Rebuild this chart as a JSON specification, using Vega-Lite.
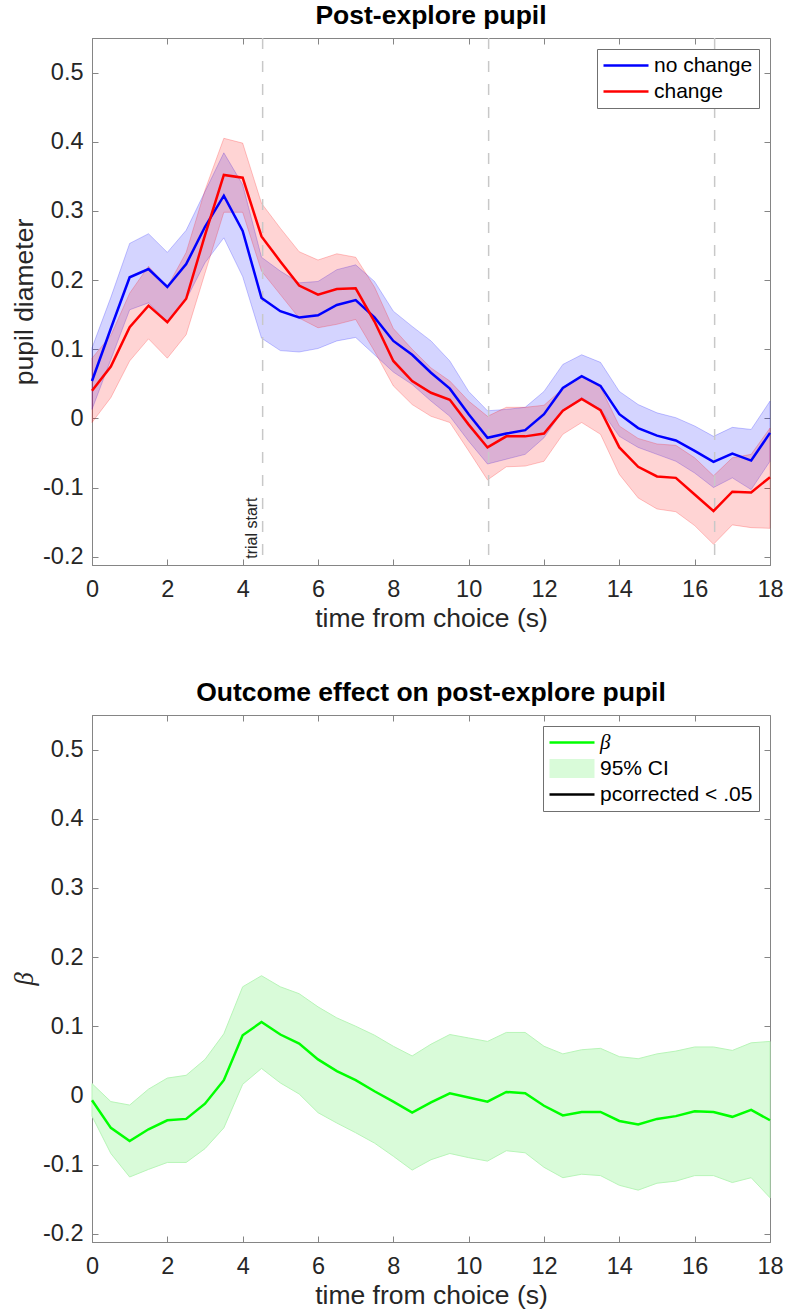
{
  "$schema": "https://vega.github.io/schema/vega-lite/v6.json",
  "background": "white",
  "padding": {"left": 11, "top": 2, "right": 5, "bottom": 3},
  "resolve": {"scale": {"color": "independent"}, "legend": {"color": "independent"}},
  "config": {
    "font": "Liberation Sans",
    "view": {"stroke": "#858585", "strokeWidth": 1},
    "axis": {
      "domainColor": "#858585", "tickColor": "#858585", "tickSize": -6, "tickWidth": 1,
      "labelFontSize": 23.5, "labelColor": "#262626", "labelFont": "Liberation Sans",
      "titleFontSize": 26.5, "titleFontWeight": "normal", "titleColor": "#262626", "titleFont": "Liberation Sans",
      "grid": false, "labelFlush": false, "labelOverlap": false
    },
    "title": {"fontSize": 26.5, "fontWeight": "bold", "color": "#000000", "font": "Liberation Sans"},
    "legend": {
      "orient": "top-right", "offset": 11, "padding": 6, "strokeColor": "#707070", "fillColor": "white",
      "labelFontSize": 21, "labelColor": "#000000", "labelFont": "Liberation Sans", "rowPadding": 4,
      "symbolType": "stroke", "symbolSize": 400, "symbolStrokeWidth": 2.5, "symbolOffset": 12.5, "labelOffset": 17.5, "cornerRadius": 0
    }
  },
  "datasets": {
    "pupil": [
      {"t":0,"g":"no change","m":0.054,"lo":0.013,"hi":0.102},
      {"t":0.5,"g":"no change","m":0.130,"lo":0.085,"hi":0.175},
      {"t":1,"g":"no change","m":0.204,"lo":0.157,"hi":0.253},
      {"t":1.5,"g":"no change","m":0.216,"lo":0.167,"hi":0.267},
      {"t":2,"g":"no change","m":0.190,"lo":0.140,"hi":0.240},
      {"t":2.5,"g":"no change","m":0.223,"lo":0.172,"hi":0.272},
      {"t":3,"g":"no change","m":0.277,"lo":0.225,"hi":0.328},
      {"t":3.5,"g":"no change","m":0.322,"lo":0.261,"hi":0.384},
      {"t":4,"g":"no change","m":0.271,"lo":0.205,"hi":0.338},
      {"t":4.5,"g":"no change","m":0.174,"lo":0.116,"hi":0.233},
      {"t":5,"g":"no change","m":0.155,"lo":0.098,"hi":0.213},
      {"t":5.5,"g":"no change","m":0.146,"lo":0.096,"hi":0.196},
      {"t":6,"g":"no change","m":0.149,"lo":0.101,"hi":0.198},
      {"t":6.5,"g":"no change","m":0.164,"lo":0.112,"hi":0.215},
      {"t":7,"g":"no change","m":0.171,"lo":0.117,"hi":0.222},
      {"t":7.5,"g":"no change","m":0.146,"lo":0.092,"hi":0.198},
      {"t":8,"g":"no change","m":0.112,"lo":0.067,"hi":0.155},
      {"t":8.5,"g":"no change","m":0.092,"lo":0.049,"hi":0.133},
      {"t":9,"g":"no change","m":0.066,"lo":0.025,"hi":0.112},
      {"t":9.5,"g":"no change","m":0.043,"lo":0.003,"hi":0.083},
      {"t":10,"g":"no change","m":0.006,"lo":-0.033,"hi":0.039},
      {"t":10.5,"g":"no change","m":-0.028,"lo":-0.066,"hi":0.011},
      {"t":11,"g":"no change","m":-0.022,"lo":-0.059,"hi":0.013},
      {"t":11.5,"g":"no change","m":-0.017,"lo":-0.052,"hi":0.016},
      {"t":12,"g":"no change","m":0.006,"lo":-0.028,"hi":0.039},
      {"t":12.5,"g":"no change","m":0.044,"lo":0.011,"hi":0.078},
      {"t":13,"g":"no change","m":0.061,"lo":0.030,"hi":0.092},
      {"t":13.5,"g":"no change","m":0.047,"lo":0.013,"hi":0.081},
      {"t":14,"g":"no change","m":0.006,"lo":-0.026,"hi":0.039},
      {"t":14.5,"g":"no change","m":-0.014,"lo":-0.042,"hi":0.020},
      {"t":15,"g":"no change","m":-0.025,"lo":-0.052,"hi":0.008},
      {"t":15.5,"g":"no change","m":-0.032,"lo":-0.062,"hi":0.001},
      {"t":16,"g":"no change","m":-0.047,"lo":-0.079,"hi":-0.011},
      {"t":16.5,"g":"no change","m":-0.063,"lo":-0.100,"hi":-0.026},
      {"t":17,"g":"no change","m":-0.051,"lo":-0.086,"hi":-0.013},
      {"t":17.5,"g":"no change","m":-0.061,"lo":-0.103,"hi":-0.016},
      {"t":18,"g":"no change","m":-0.021,"lo":-0.062,"hi":0.025},
      {"t":0,"g":"change","m":0.040,"lo":-0.006,"hi":0.087},
      {"t":0.5,"g":"change","m":0.075,"lo":0.030,"hi":0.120},
      {"t":1,"g":"change","m":0.132,"lo":0.083,"hi":0.181},
      {"t":1.5,"g":"change","m":0.163,"lo":0.115,"hi":0.220},
      {"t":2,"g":"change","m":0.139,"lo":0.087,"hi":0.190},
      {"t":2.5,"g":"change","m":0.173,"lo":0.121,"hi":0.240},
      {"t":3,"g":"change","m":0.265,"lo":0.210,"hi":0.330},
      {"t":3.5,"g":"change","m":0.352,"lo":0.298,"hi":0.405},
      {"t":4,"g":"change","m":0.348,"lo":0.298,"hi":0.398},
      {"t":4.5,"g":"change","m":0.263,"lo":0.213,"hi":0.311},
      {"t":5,"g":"change","m":0.227,"lo":0.179,"hi":0.275},
      {"t":5.5,"g":"change","m":0.192,"lo":0.145,"hi":0.241},
      {"t":6,"g":"change","m":0.179,"lo":0.131,"hi":0.229},
      {"t":6.5,"g":"change","m":0.187,"lo":0.136,"hi":0.238},
      {"t":7,"g":"change","m":0.188,"lo":0.143,"hi":0.233},
      {"t":7.5,"g":"change","m":0.140,"lo":0.097,"hi":0.190},
      {"t":8,"g":"change","m":0.083,"lo":0.047,"hi":0.130},
      {"t":8.5,"g":"change","m":0.054,"lo":0.020,"hi":0.100},
      {"t":9,"g":"change","m":0.037,"lo":0.003,"hi":0.073},
      {"t":9.5,"g":"change","m":0.027,"lo":-0.006,"hi":0.054},
      {"t":10,"g":"change","m":-0.009,"lo":-0.047,"hi":0.025},
      {"t":10.5,"g":"change","m":-0.042,"lo":-0.089,"hi":0.003},
      {"t":11,"g":"change","m":-0.026,"lo":-0.070,"hi":0.016},
      {"t":11.5,"g":"change","m":-0.026,"lo":-0.069,"hi":0.016},
      {"t":12,"g":"change","m":-0.022,"lo":-0.062,"hi":0.019},
      {"t":12.5,"g":"change","m":0.011,"lo":-0.023,"hi":0.043},
      {"t":13,"g":"change","m":0.028,"lo":-0.006,"hi":0.061},
      {"t":13.5,"g":"change","m":0.012,"lo":-0.023,"hi":0.045},
      {"t":14,"g":"change","m":-0.042,"lo":-0.081,"hi":-0.011},
      {"t":14.5,"g":"change","m":-0.070,"lo":-0.115,"hi":-0.029},
      {"t":15,"g":"change","m":-0.084,"lo":-0.131,"hi":-0.037},
      {"t":15.5,"g":"change","m":-0.086,"lo":-0.135,"hi":-0.039},
      {"t":16,"g":"change","m":-0.110,"lo":-0.155,"hi":-0.057},
      {"t":16.5,"g":"change","m":-0.134,"lo":-0.182,"hi":-0.083},
      {"t":17,"g":"change","m":-0.106,"lo":-0.154,"hi":-0.057},
      {"t":17.5,"g":"change","m":-0.107,"lo":-0.158,"hi":-0.052},
      {"t":18,"g":"change","m":-0.085,"lo":-0.159,"hi":-0.014}
    ],
    "beta": [
      {"t":0,"b":-0.007,"lo":-0.030,"hi":0.017},
      {"t":0.5,"b":-0.047,"lo":-0.084,"hi":-0.009},
      {"t":1,"b":-0.066,"lo":-0.118,"hi":-0.014},
      {"t":1.5,"b":-0.049,"lo":-0.107,"hi":0.009},
      {"t":2,"b":-0.036,"lo":-0.097,"hi":0.025},
      {"t":2.5,"b":-0.034,"lo":-0.097,"hi":0.029},
      {"t":3,"b":-0.012,"lo":-0.077,"hi":0.052},
      {"t":3.5,"b":0.022,"lo":-0.047,"hi":0.089},
      {"t":4,"b":0.087,"lo":0.016,"hi":0.157},
      {"t":4.5,"b":0.106,"lo":0.039,"hi":0.173},
      {"t":5,"b":0.088,"lo":0.018,"hi":0.157},
      {"t":5.5,"b":0.075,"lo":0.002,"hi":0.147},
      {"t":6,"b":0.052,"lo":-0.025,"hi":0.128},
      {"t":6.5,"b":0.035,"lo":-0.040,"hi":0.112},
      {"t":7,"b":0.022,"lo":-0.054,"hi":0.100},
      {"t":7.5,"b":0.006,"lo":-0.069,"hi":0.087},
      {"t":8,"b":-0.009,"lo":-0.088,"hi":0.071},
      {"t":8.5,"b":-0.025,"lo":-0.108,"hi":0.057},
      {"t":9,"b":-0.010,"lo":-0.093,"hi":0.074},
      {"t":9.5,"b":0.003,"lo":-0.084,"hi":0.088},
      {"t":10,"b":-0.003,"lo":-0.090,"hi":0.083},
      {"t":10.5,"b":-0.009,"lo":-0.095,"hi":0.078},
      {"t":11,"b":0.005,"lo":-0.080,"hi":0.091},
      {"t":11.5,"b":0.003,"lo":-0.083,"hi":0.091},
      {"t":12,"b":-0.015,"lo":-0.104,"hi":0.071},
      {"t":12.5,"b":-0.029,"lo":-0.119,"hi":0.060},
      {"t":13,"b":-0.024,"lo":-0.114,"hi":0.066},
      {"t":13.5,"b":-0.024,"lo":-0.116,"hi":0.068},
      {"t":14,"b":-0.037,"lo":-0.130,"hi":0.056},
      {"t":14.5,"b":-0.042,"lo":-0.137,"hi":0.053},
      {"t":15,"b":-0.034,"lo":-0.127,"hi":0.060},
      {"t":15.5,"b":-0.030,"lo":-0.124,"hi":0.064},
      {"t":16,"b":-0.023,"lo":-0.116,"hi":0.070},
      {"t":16.5,"b":-0.024,"lo":-0.116,"hi":0.070},
      {"t":17,"b":-0.031,"lo":-0.126,"hi":0.065},
      {"t":17.5,"b":-0.021,"lo":-0.119,"hi":0.076},
      {"t":18,"b":-0.036,"lo":-0.148,"hi":0.078}
    ],
    "events": [{"v":4.53},{"v":10.53},{"v":16.53}],
    "notes": [{"t":4.37,"y":-0.203,"txt":"trial start"}]
  },
  "spacing": 46,
  "vconcat": [
    {
      "width": 678, "height": 527,
      "title": {"text": "Post-explore pupil", "offset": 8},
      "resolve": {"axis": {"x": "independent", "y": "independent"}},
      "layer": [
        {
          "data": {"name": "pupil"},
          "transform": [{"filter": "datum.g === 'no change'"}],
          "mark": {"type": "area", "fill": "#0000ff", "fillOpacity": 0.17, "stroke": "#0000ff", "strokeOpacity": 0.22, "strokeWidth": 1},
          "encoding": {
            "x": {"field": "t", "type": "quantitative", "scale": {"domain": [0, 18], "nice": false, "zero": false},
                  "axis": {"values": [0,2,4,6,8,10,12,14,16,18], "labelPadding": 18, "title": "time from choice (s)", "titlePadding": 5}},
            "y": {"field": "lo", "type": "quantitative", "scale": {"domain": [-0.212, 0.55], "nice": false, "zero": false},
                  "axis": {"values": [-0.2,-0.1,0,0.1,0.2,0.3,0.4,0.5], "labelExpr": "'' + datum.value", "labelPadding": 15, "title": "pupil diameter", "titlePadding": 4}},
            "y2": {"field": "hi"}
          }
        },
        {
          "data": {"name": "pupil"},
          "transform": [{"filter": "datum.g === 'change'"}],
          "mark": {"type": "area", "fill": "#ff0000", "fillOpacity": 0.17, "stroke": "#ff0000", "strokeOpacity": 0.22, "strokeWidth": 1},
          "encoding": {
            "x": {"field": "t", "type": "quantitative", "axis": {"orient": "top", "values": [0,2,4,6,8,10,12,14,16,18], "labels": false, "title": null, "domain": false}},
            "y": {"field": "lo", "type": "quantitative", "axis": {"orient": "right", "values": [-0.2,-0.1,0,0.1,0.2,0.3,0.4,0.5], "labels": false, "title": null, "domain": false}},
            "y2": {"field": "hi"}
          }
        },
        {
          "data": {"name": "events"},
          "mark": {"type": "rule", "color": "#c8c8c8", "strokeWidth": 1.5, "strokeDash": [11, 12]},
          "encoding": {"x": {"field": "v", "type": "quantitative", "axis": null}}
        },
        {
          "data": {"name": "notes"},
          "mark": {"type": "text", "angle": 270, "align": "left", "baseline": "alphabetic", "fontSize": 16, "color": "#262626"},
          "encoding": {
            "x": {"field": "t", "type": "quantitative", "axis": null},
            "y": {"field": "y", "type": "quantitative", "axis": null},
            "text": {"field": "txt"}
          }
        },
        {
          "data": {"name": "pupil"},
          "mark": {"type": "line", "strokeWidth": 2.5},
          "encoding": {
            "x": {"field": "t", "type": "quantitative", "axis": null},
            "y": {"field": "m", "type": "quantitative", "axis": null},
            "color": {"field": "g", "type": "nominal", "scale": {"domain": ["no change", "change"], "range": ["#0000ff", "#ff0000"]},
                      "legend": {"title": null,
                        "encode": {"symbols": {"update": {
                          "shape": {"signal": "datum.value === 'zz' ? 'circle' : 'stroke'"},
                          "fill": {"signal": "'transparent'"},
                          "stroke": {"signal": "datum.value === 'change' ? '#ff0000' : '#0000ff'"},
                          "strokeWidth": {"signal": "datum.value === 'zz' ? 0 : 2.5"},
                          "size": {"value": 2025},
                          "opacity": {"value": 1}
                        }}}}}
          }
        }
      ]
    },
    {
      "width": 678, "height": 527,
      "title": {"text": "Outcome effect on post-explore pupil", "offset": 8},
      "resolve": {"axis": {"x": "independent", "y": "independent"}},
      "layer": [
        {
          "data": {"name": "beta"},
          "mark": {"type": "area", "fill": "#d9fbd9", "stroke": "#b8f5b8", "strokeWidth": 1},
          "encoding": {
            "x": {"field": "t", "type": "quantitative", "scale": {"domain": [0, 18], "nice": false, "zero": false},
                  "axis": {"values": [0,2,4,6,8,10,12,14,16,18], "labelPadding": 18, "title": "time from choice (s)", "titlePadding": 5}},
            "y": {"field": "lo", "type": "quantitative", "scale": {"domain": [-0.212, 0.55], "nice": false, "zero": false},
                  "axis": {"values": [-0.2,-0.1,0,0.1,0.2,0.3,0.4,0.5], "labelExpr": "'' + datum.value", "labelPadding": 15, "title": "β", "titleFont": "Liberation Serif", "titleFontStyle": "italic", "titlePadding": 4}},
            "y2": {"field": "hi"}
          }
        },
        {
          "data": {"name": "beta"},
          "mark": {"type": "line", "strokeWidth": 2.5},
          "encoding": {
            "x": {"field": "t", "type": "quantitative", "axis": {"orient": "top", "values": [0,2,4,6,8,10,12,14,16,18], "labels": false, "title": null, "domain": false}},
            "y": {"field": "b", "type": "quantitative", "axis": {"orient": "right", "values": [-0.2,-0.1,0,0.1,0.2,0.3,0.4,0.5], "labels": false, "title": null, "domain": false}},
            "color": {"datum": "β", "type": "nominal",
                      "scale": {"domain": ["β", "95% CI", "pcorrected < .05"], "range": ["#00ff00", "#d9fbd9", "#000000"]},
                      "legend": {"title": null,
                        "encode": {
                          "symbols": {"update": {
                            "shape": {"signal": "datum.value === '95% CI' ? 'M-1,-0.42L1,-0.42L1,0.42L-1,0.42Z' : 'stroke'"},
                            "fill": {"signal": "datum.value === '95% CI' ? '#d9fbd9' : 'transparent'"},
                            "stroke": {"signal": "datum.value === '95% CI' ? '#d9fbd9' : (datum.value === 'β' ? '#00ff00' : '#000000')"},
                            "strokeWidth": {"signal": "datum.value === '95% CI' ? 0 : 2.5"},
                            "size": {"value": 2025},
                            "opacity": {"value": 1}
                          }},
                          "labels": {"update": {
                            "font": {"signal": "datum.value === 'β' ? 'Liberation Serif' : 'Liberation Sans'"},
                            "fontStyle": {"signal": "datum.value === 'β' ? 'italic' : 'normal'"}
                          }}
                        }}}
          }
        }
      ]
    }
  ]
}
